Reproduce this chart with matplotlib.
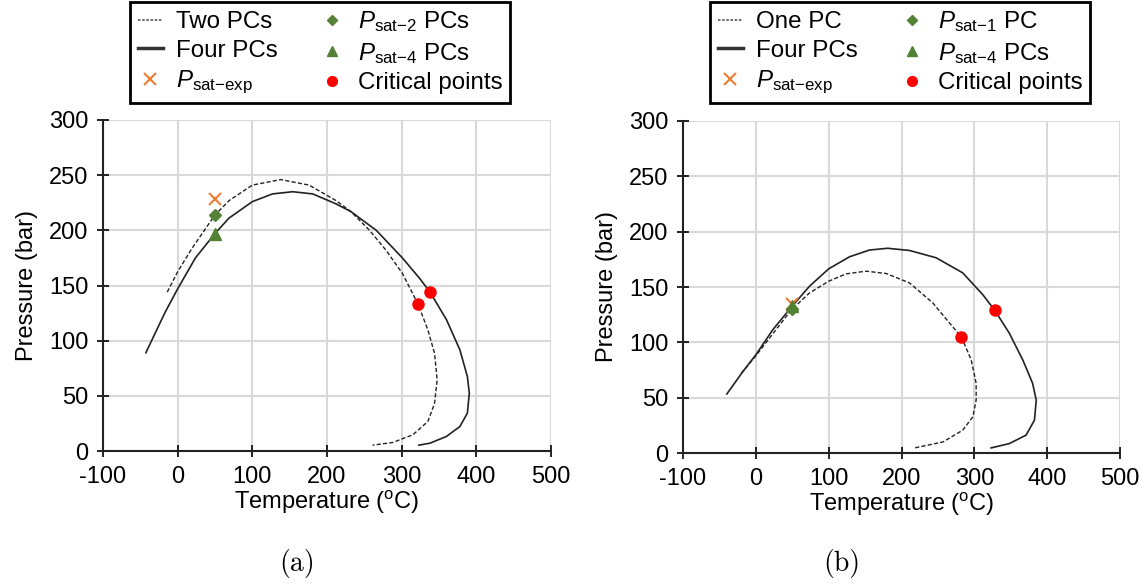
import matplotlib
matplotlib.use("Agg")
import matplotlib.pyplot as plt
from matplotlib.lines import Line2D

plt.rcParams['font.family'] = ['Liberation Sans', 'DejaVu Sans']
plt.rcParams['mathtext.fontset'] = 'custom'
plt.rcParams['mathtext.rm'] = 'Liberation Sans'
plt.rcParams['mathtext.it'] = 'Liberation Sans:italic'

# ---- panel (a) ----
a_two_T = [-14, 0, 19, 50, 69, 100, 138, 176, 212, 232, 257, 279, 301, 322, 335, 344, 347.5, 344, 335, 315, 288, 261]
a_two_P = [144, 162.5, 183.5, 214, 227, 241, 246, 241, 227, 217, 200, 182, 161, 133, 110, 88.6, 64.5, 43, 26.7, 14.7, 7.7, 5.3]
a_four_T = [-42.6, -30, -16.6, 0, 23.8, 49.8, 68.6, 100, 127, 154, 181, 212, 232, 266, 301, 324, 338, 360, 378, 388, 390.6, 388, 378, 360, 338, 323]
a_four_P = [89, 107, 126, 147, 175, 197, 211, 226, 233, 235, 233, 224, 217, 200, 175, 156.5, 144, 119, 91.6, 67.5, 52.4, 34.3, 22.2, 13.2, 7.1, 5.3]
a_exp = (50, 228)
a_sat_low = (50, 214)
a_sat_4 = (50, 197)
a_crit_T = [322, 338]
a_crit_P = [133, 144]

# ---- panel (b) ----
b_one_T = [-20, 0, 23.3, 49, 73.7, 100, 124, 151.5, 179, 211, 243, 266, 282.4, 295.7, 302.5, 302.5, 298, 284, 257, 218]
b_one_P = [72, 87.8, 107.7, 129.5, 144.6, 155.2, 161.9, 164.3, 162.2, 153.7, 135.6, 117.4, 104.7, 84.1, 63, 47.8, 32.7, 20.6, 10, 4.6]
b_four_T = [-39.8, -17.8, 0, 23.3, 49, 73.7, 100, 128.6, 156, 181, 211, 247.6, 284, 311.7, 328, 348, 366.6, 380, 385, 382.6, 371, 348, 323]
b_four_P = [53.3, 73.6, 88.7, 111.4, 132, 150.7, 166.4, 177.3, 183.4, 185, 183, 176.4, 162.8, 143, 129, 108.3, 84, 63, 47.8, 29.7, 16.1, 8.5, 4.6]
b_exp = (49, 135)
b_sat_low = (50, 130)
b_sat_4 = (49, 133)
b_crit_T = [282, 328]
b_crit_P = [105, 129]

x_ticks = [-100, 0, 100, 200, 300, 400, 500]
y_ticks = [0, 50, 100, 150, 200, 250, 300]

c_exp = '#ED7D31'
c_green = '#548235'
dash = (0, (3, 1.6))


def panel(ax, lowT, lowP, fourT, fourP, exp, sat_low, sat4, critT, critP):
    ax.plot(lowT, lowP, color='#222222', lw=1.0, linestyle=dash)
    ax.plot(fourT, fourP, color='#222222', lw=1.2)
    ax.plot(*exp, marker='x', color=c_exp, ms=9, mew=1.5, ls='none')
    ax.plot(*sat_low, marker='D', color=c_green, ms=6.5, ls='none')
    ax.plot(*sat4, marker='^', color=c_green, ms=9, ls='none')
    ax.plot(critT, critP, 'o', color='red', ms=8, ls='none')
    ax.set_xlim(-100, 500)
    ax.set_ylim(0, 300)
    ax.set_xticks(x_ticks)
    ax.set_yticks(y_ticks)
    ax.set_xticklabels([str(t) for t in x_ticks])
    ax.grid(True, color='#d9d9d9', lw=1.5)
    ax.set_axisbelow(True)
    for s in ['top', 'right']:
        ax.spines[s].set_visible(False)
    for s in ['left', 'bottom']:
        ax.spines[s].set_linewidth(1.5)
        ax.spines[s].set_color('#222222')
    ax.tick_params(direction='inout', length=9, width=1.2, labelsize=17, pad=6)
    ax.set_xlabel('Temperature ($^{\\mathrm{o}}$C)', fontsize=17, labelpad=1)
    ax.set_ylabel('Pressure (bar)', fontsize=17, labelpad=8)


def legend(fig, xc, low_label, sat_label):
    handles = [
        Line2D([], [], color='#555555', lw=1.2, linestyle=(0, (1.5, 1))),
        Line2D([], [], color='#333333', lw=2.5),
        Line2D([], [], marker='x', color=c_exp, ms=8, mew=1.5, ls='none'),
        Line2D([], [], marker='D', color=c_green, ms=5.5, ls='none'),
        Line2D([], [], marker='^', color=c_green, ms=6.5, ls='none'),
        Line2D([], [], marker='o', color='red', ms=7, ls='none'),
    ]
    labels = [low_label, 'Four PCs', '$P_{\\mathrm{sat{-}exp}}$',
              sat_label, '$P_{\\mathrm{sat{-}4}}$ PCs', 'Critical points']
    leg = fig.legend(handles, labels, ncol=2, loc='upper center',
                     bbox_to_anchor=(xc, 0.997), bbox_transform=fig.transFigure,
                     fontsize=17.4, frameon=True, fancybox=False, framealpha=1,
                     handlelength=1.05, handletextpad=0.55, columnspacing=1.7,
                     labelspacing=0.28, borderpad=0.3, borderaxespad=0)
    leg.get_frame().set_edgecolor('black')
    leg.get_frame().set_linewidth(2)


fig = plt.figure(figsize=(11.48, 5.84), dpi=100)
ax1 = fig.add_axes([103 / 1148, 133 / 584, 448 / 1148, 331 / 584])
ax2 = fig.add_axes([683 / 1148, 131 / 584, 437 / 1148, 332 / 584])

panel(ax1, a_two_T, a_two_P, a_four_T, a_four_P, a_exp, a_sat_low, a_sat_4, a_crit_T, a_crit_P)
panel(ax2, b_one_T, b_one_P, b_four_T, b_four_P, b_exp, b_sat_low, b_sat_4, b_crit_T, b_crit_P)

legend(fig, 320 / 1148, 'Two PCs', '$P_{\\mathrm{sat{-}2}}$ PCs')
legend(fig, 900 / 1148, 'One PC', '$P_{\\mathrm{sat{-}1}}$ PC')

fig.text(297 / 1148, 1 - 563 / 584, '(a)', fontsize=20, family='cmr10', ha='center', va='center')
fig.text(842 / 1148, 1 - 563 / 584, '(b)', fontsize=20, family='cmr10', ha='center', va='center')

fig.savefig('out.png', dpi=100)
